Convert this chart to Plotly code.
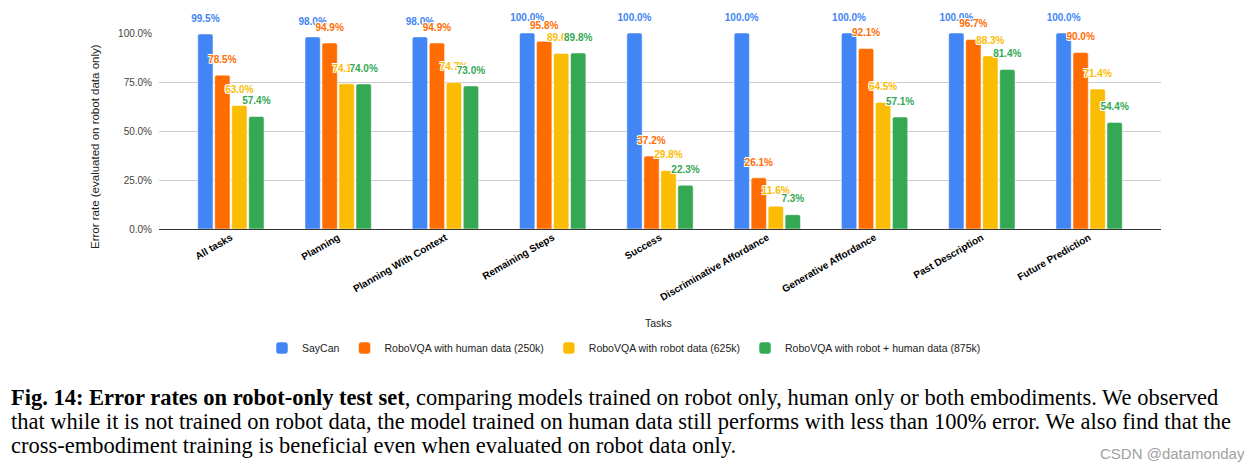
import plotly.graph_objects as go

categories = ["All tasks", "Planning", "Planning With Context", "Remaining Steps", "Success",
              "Discriminative Affordance", "Generative Affordance", "Past Description", "Future Prediction"]
series_names = ["SayCan", "RoboVQA with human data (250k)", "RoboVQA with robot data (625k)",
                "RoboVQA with robot + human data (875k)"]
saycan = [0.995, 0.980, 0.980, 1.000, 1.000, 1.000, 1.000, 1.000, 1.000]
human = [0.785, 0.949, 0.949, 0.958, 0.372, 0.261, 0.921, 0.967, 0.900]
robot = [0.630, 0.741, 0.747, 0.896, 0.298, 0.116, 0.645, 0.883, 0.714]
both = [0.574, 0.740, 0.730, 0.898, 0.223, 0.073, 0.571, 0.814, 0.544]
y_ticks = [0, 0.25, 0.5, 0.75, 1.0]
colors = ["#4285F4", "#FF6D01", "#FBBC04", "#34A853"]

caption_lines = [
    "<b>Fig. 14: Error rates on robot-only test set</b>, comparing models trained on robot only, human only or both embodiments. We observed",
    "that while it is not trained on robot data, the model trained on human data still performs with less than 100% error. We also find that the",
    "cross-embodiment training is beneficial even when evaluated on robot data only.",
]

# page body has an 8px default margin; work in screen pixels and convert
OFF = 8
W, H = 1260 - 2 * OFF, 471 - 2 * OFF
L, T = 159 - OFF, 33 - OFF
R = W - (1161 - OFF)
B = H - (229 - OFF)
PW, PH = W - L - R, H - T - B


def px(x):
    return (x - OFF - L) / PW


def py(y):
    return (H - B - (y - OFF)) / PH


SANS = "Arial, Liberation Sans, sans-serif"
halo = "1px 1px 0px #fff, -1px -1px 0px #fff, 1px -1px 0px #fff, -1px 1px 0px #fff"

fig = go.Figure()
all_series = [saycan, human, robot, both]
for name, vals, col in zip(series_names, all_series, colors):
    fig.add_trace(go.Bar(
        x=categories, y=vals, name=name,
        marker=dict(color=col, line=dict(color="white", width=0.5), cornerradius=2),
        hoverinfo="skip",
    ))
for name, vals, col in zip(series_names, all_series, colors):
    fig.add_trace(go.Scatter(
        x=categories, y=vals, mode="markers+text", showlegend=False,
        text=[f"{v*100:.1f}%" for v in vals], textposition="top center",
        marker=dict(size=14, color="rgba(0,0,0,0)"),
        textfont=dict(family=SANS, size=10, color=col, weight="bold", shadow=halo),
        cliponaxis=False, hoverinfo="skip",
    ))

annotations = [
    dict(text="Error rate (evaluated on robot data only)", textangle=-90, x=px(95), y=py(147),
         xref="paper", yref="paper", showarrow=False, xanchor="center", yanchor="middle",
         font=dict(family=SANS, size=11.5, color="#222")),
    dict(text="Tasks", x=px(658), y=py(323), xref="paper", yref="paper", showarrow=False,
         xanchor="center", yanchor="middle", font=dict(family=SANS, size=10.5, color="#222")),
    dict(text="CSDN @datamonday", x=px(1247), y=py(453), xref="paper", yref="paper", showarrow=False,
         xanchor="right", yanchor="middle", font=dict(family=SANS, size=15, color="#a0a0a0")),
]
for line, yy, fs in zip(caption_lines, [397, 421, 445], [22.5, 22.5, 22.5]):
    annotations.append(dict(text=line, x=px(9), y=py(yy), xref="paper", yref="paper", showarrow=False,
                            xanchor="left", yanchor="middle",
                            font=dict(family="Liberation Serif, Times New Roman, serif", size=fs, color="black")))

fig.update_layout(
    width=W, height=H,
    margin=dict(l=L, r=R, t=T, b=B, autoexpand=False),
    paper_bgcolor="white", plot_bgcolor="white",
    barmode="group", bargap=0.366, bargroupgap=0.1,
    scattermode="group", scattergap=0.366,
    showlegend=True,
    legend=dict(orientation="h", x=px(624), y=py(348), xanchor="center", yanchor="middle",
                font=dict(family=SANS, size=10.5, color="#222"), itemwidth=30,
                traceorder="normal"),
    xaxis=dict(type="category", range=[-0.67, 8.67], showgrid=False, ticks="", tickangle=-30,
               tickfont=dict(family=SANS, size=10, color="black", weight="bold"), showline=False,
               automargin=False),
    yaxis=dict(range=[0, 1], tickvals=y_ticks, tickformat=".1%", showgrid=True, gridcolor="#cccccc",
               gridwidth=1, zeroline=True, zerolinecolor="#333333", zerolinewidth=1,
               tickfont=dict(family=SANS, size=10, color="#444"), ticklabelstandoff=6,
               automargin=False),
    annotations=annotations,
)

fig.write_html("out.html")
